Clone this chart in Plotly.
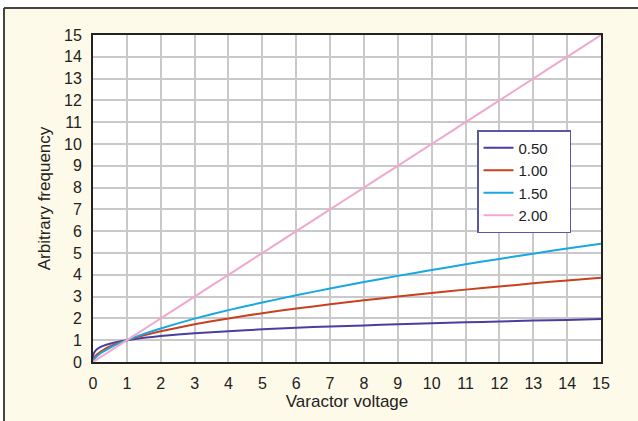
import plotly.graph_objects as go

voltage = [0, 0.01, 0.03, 0.06, 0.1, 0.2, 0.3, 0.5, 0.75, 1, 1.5, 2, 3, 4, 5, 6, 7, 8, 9, 10, 11, 12, 13, 14, 15]
f_050 = [0, 0.31, 0.42, 0.49, 0.56, 0.67, 0.74, 0.84, 0.93, 1.0, 1.11, 1.19, 1.32, 1.41, 1.50, 1.57, 1.63, 1.68, 1.73, 1.78, 1.82, 1.86, 1.90, 1.93, 1.97]
f_100 = [0, 0.10, 0.17, 0.24, 0.32, 0.45, 0.55, 0.71, 0.87, 1.0, 1.22, 1.41, 1.73, 2.0, 2.24, 2.45, 2.65, 2.83, 3.0, 3.16, 3.32, 3.46, 3.61, 3.74, 3.87]
f_150 = [0, 0.06, 0.11, 0.17, 0.24, 0.37, 0.47, 0.65, 0.84, 1.0, 1.29, 1.54, 1.99, 2.38, 2.73, 3.06, 3.37, 3.67, 3.95, 4.22, 4.48, 4.73, 4.97, 5.21, 5.43]
f_200 = [0, 0.01, 0.03, 0.06, 0.1, 0.2, 0.3, 0.5, 0.75, 1, 1.5, 2, 3, 4, 5, 6, 7, 8, 9, 10, 11, 12, 13, 14, 15]

names = ["0.50", "1.00", "1.50", "2.00"]
colors = ["#4a3f9f", "#c9401f", "#17a8e0", "#f0a8cf"]
series = [f_050, f_100, f_150, f_200]
ticks = list(range(0, 16))

FONT = "Liberation Sans, Arial, sans-serif"
W, H = 638, 421
L, R, T, B = 93, 37, 35, 59
PW, PH = W - L - R, H - T - B

fig = go.Figure()
for n, c, s in zip(names, colors, series):
    fig.add_trace(go.Scatter(x=voltage, y=s, mode="lines", name=n + "\u00a0\u00a0\u00a0\u00a0",
                             line=dict(color=c, width=2, shape="spline", smoothing=0.5)))

axis_common = dict(
    showline=True, linecolor="#222222", linewidth=2, mirror=True,
    showgrid=True, gridcolor="#c9c9c9", gridwidth=1.5,
    zeroline=False, ticks="", tickvals=ticks,
    tickfont=dict(family=FONT, size=16, color="#222222"),
    range=[0, 15],
)

fig.update_layout(
    width=W, height=H,
    margin=dict(l=L, r=R, t=T, b=B),
    paper_bgcolor="#fefae9",
    plot_bgcolor="#ffffff",
    showlegend=True,
    legend=dict(x=(477 - L) / PW, y=(H - B - 130) / PH, xanchor="left", yanchor="top",
                bgcolor="#ffffff", bordercolor="#5a57a8", borderwidth=1.5,
                font=dict(family=FONT, size=15, color="#222222"),
                tracegroupgap=0, itemwidth=30),
    xaxis=dict(**axis_common, ticklabelstandoff=6,
               title=dict(text="Varactor voltage", standoff=4,
                          font=dict(family=FONT, size=17, color="#222222"))),
    yaxis=dict(**axis_common, ticklabelstandoff=6,
               title=dict(text="Arbitrary frequency", standoff=9,
                          font=dict(family=FONT, size=17, color="#222222"))),
)

def px(x):
    return (x - L) / PW

def py(y):
    return (H - B - y) / PH

# white strips outside the cream panel, and the panel's left/top frame lines
fig.add_shape(type="rect", xref="paper", yref="paper", x0=px(0), x1=px(W), y0=py(0), y1=py(8),
              fillcolor="#ffffff", line=dict(width=0))
fig.add_shape(type="rect", xref="paper", yref="paper", x0=px(0), x1=px(4), y0=py(0), y1=py(H),
              fillcolor="#ffffff", line=dict(width=0))
fig.add_shape(type="line", xref="paper", yref="paper", x0=px(4), x1=px(W), y0=py(8), y1=py(8),
              line=dict(color="#444444", width=2))
fig.add_shape(type="line", xref="paper", yref="paper", x0=px(4), x1=px(4), y0=py(8), y1=py(H),
              line=dict(color="#444444", width=2))

fig.write_html("out.html", config={"displayModeBar": False},
               post_script="document.body.style.margin='0';")
